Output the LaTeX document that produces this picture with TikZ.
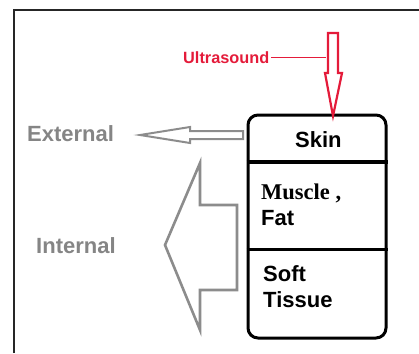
\documentclass[tikz,border=0pt]{standalone}
\usepackage{fontspec}
\setmainfont{Liberation Sans}
\newfontfamily\serifb{Liberation Serif}
\definecolor{usred}{RGB}{228,27,58}
\definecolor{lgray}{RGB}{133,133,133}
\definecolor{agray}{RGB}{140,140,140}
\begin{document}
\begin{tikzpicture}[x=1pt,y=-1pt,
  lbl/.style={font=\fontsize{22}{26}\selectfont\bfseries, text=lgray, inner sep=0, anchor=base west},
  boxtxt/.style={font=\fontsize{22}{26}\selectfont\bfseries, inner sep=0, anchor=base west},
  hollow/.style={draw=agray, line width=2.2pt, line join=miter}]
\useasboundingbox (0,0) rectangle (419,353);
% frame
\draw[line width=1.6pt, black!85] (14,353) -- (14,10) -- (419,10);
% layered box
\node[draw, line width=3pt, rounded corners=10pt, minimum width=138pt, minimum height=223pt, inner sep=0] (box) at (317,226.5) {};
\coordinate (d1) at (317,162);
\coordinate (d2) at (317,249);
\draw[line width=3.6pt] (box.west |- d1) -- (box.east |- d1);
\draw[line width=3pt] (box.west |- d2) -- (box.east |- d2);
% texts in box
\node[boxtxt] (skin) at (295,147) {Skin};
\node[boxtxt, font=\serifb\fontsize{22.5}{26}\selectfont\bfseries] (muscle) at (261,199) {Muscle ,};
\node[boxtxt] (fat) at (261,225) {Fat};
\node[boxtxt] (soft) at (263,281) {Soft};
\node[boxtxt] (tissue) at (263,307) {Tissue};
% side labels
\node[lbl] (ext) at (27,141) {External};
\node[lbl] (int) at (36,253) {Internal};
% ultrasound label and arrow
\node[inner sep=0, anchor=base west, text=usred, font=\fontsize{16.3}{19}\selectfont\bfseries] (us) at (183,63) {Ultrasound};
\coordinate (usend) at (326,57);
\draw[usred, line width=0.6pt] ([xshift=2pt]us.east |- usend) -- (usend);
\draw[usred, line width=2.2pt, line join=miter] (328,33) -- (338,33) -- (338,73) -- (342,73) -- (333,116) -- (325,73) -- (328,73) -- cycle;
% external arrow
\draw[hollow, line width=2pt] (243,131) -- (190,131) -- (190,127) -- (140,135) -- (190,143) -- (190,139) -- (243,139) -- cycle;
% internal arrow
\draw[hollow, line width=2.6pt] (200,163) -- (200,205) -- (237,205) -- (237,290) -- (200,290) -- (200,330) -- (165,245) -- cycle;
\end{tikzpicture}
\end{document}
